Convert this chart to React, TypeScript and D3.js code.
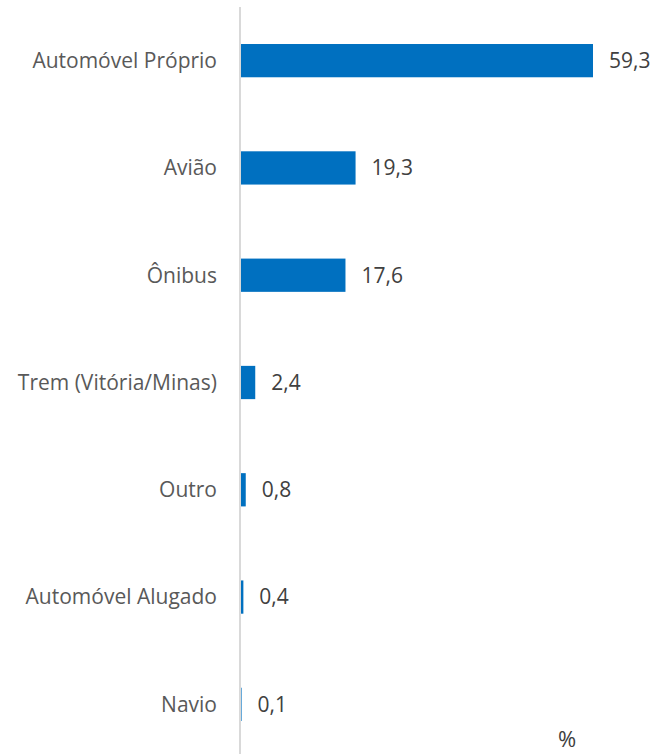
import React from "react";
import * as d3 from "d3";

const categories = [
  "Automóvel Próprio",
  "Avião",
  "Ônibus",
  "Trem (Vitória/Minas)",
  "Outro",
  "Automóvel Alugado",
  "Navio",
];
const values = [59.3, 19.3, 17.6, 2.4, 0.8, 0.4, 0.1];
const unitLabel = "%";

const W = 655;
const H = 754;
const axisX = 240;

export default function App() {
  const x = d3.scaleLinear().domain([0, 59.3]).range([axisX + 1, 593]);
  const y = d3
    .scaleBand<string>()
    .domain(categories)
    .range([7, 758])
    .paddingInner(0.69)
    .paddingOuter(0.345);
  const fmt = (v: number) => v.toFixed(1).replace(".", ",");
  const font = "Open Sans, Liberation Sans, sans-serif";
  return (
    <svg
      width={W}
      height={H}
      style={{ position: "absolute", left: 0, top: 0, background: "#fff" }}
      fontFamily={font}
    >
      {categories.map((c, i) => {
        const yy = y(c)!;
        const bw = y.bandwidth();
        return (
          <g key={c}>
            <rect x={axisX + 1} y={yy} width={Math.max(0, x(values[i]) - x(0))} height={bw} fill="#0070c0" />
            <text
              x={217}
              y={yy + bw / 2}
              dy="0.35em"
              textAnchor="end"
              fontSize={21}
              fill="#595959"
            >
              {c}
            </text>
            <text
              x={x(values[i]) + 16}
              y={yy + bw / 2}
              dy="0.35em"
              fontSize={21}
              fill="#404040"
            >
              {fmt(values[i])}
            </text>
          </g>
        );
      })}
      <line x1={axisX} x2={axisX} y1={7} y2={H} stroke="#d9d9d9" strokeWidth={2} />
      <text x={567} y={739} dy="0.35em" textAnchor="middle" fontSize={22} fill="#404040">
        {unitLabel}
      </text>
    </svg>
  );
}
